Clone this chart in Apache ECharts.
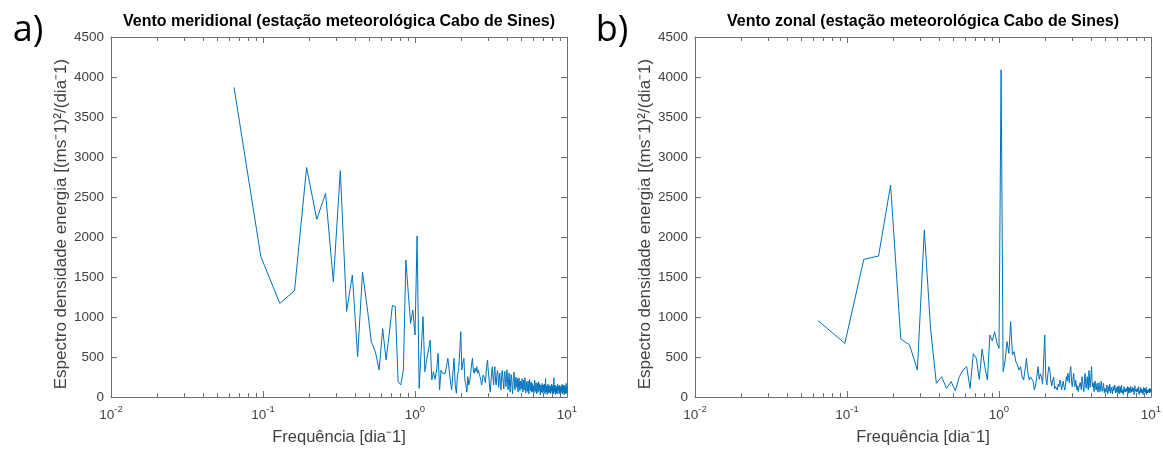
<!DOCTYPE html>
<html>
<head>
<meta charset="utf-8">
<script src="https://cdn.jsdelivr.net/npm/echarts/dist/echarts.min.js"></script>
<style>
  html, body { margin: 0; padding: 0; background: #ffffff; }
  #chart { width: 1163px; height: 449px; }
</style>
</head>
<body>
<div id="chart"></div>
<script>
// Periodogram of a 31-day hourly wind record; harmonics k = 2 .. 310 (f = k / 31 day^-1)
const RECORD_DAYS = 31;
const FIRST_HARMONIC = 2;

// Meridional wind spectral density, [(m s^-1)^2 / (day^-1)]
const meridionalPSD = [
  // k = 2..32
  3870, 1755, 1170, 1330, 2870, 2220, 2545, 1440, 2830, 1070, 1525, 505, 1560, 1130, 690, 567,
  338, 855, 463, 795, 1142, 1130, 192, 150, 340, 1712, 1300, 920, 1087, 775, 2012,
  // k = 33..62
  108, 560, 1004, 317, 462, 442, 712, 212, 317, 220, 337, 546, 87, 337, 296, 280, 296, 300,
  483, 462, 200, 87, 296, 483, 150, 46, 275, 330, 560, 817,
  // k = 63..93
  337, 420, 483, 212, 150, 60, 254, 150, 200, 296, 400, 483, 337, 296, 360, 317, 379, 296,
  340, 296, 254, 212, 150, 200, 275, 254, 230, 180, 300, 400, 462,
  // k = 94..124
  330, 250, 120, 60, 200, 300, 379, 250, 150, 330, 379, 200, 150, 260, 330, 280, 120, 220,
  300, 160, 90, 240, 330, 260, 180, 100, 280, 320, 200, 130, 260,
  // k = 125..155
  340, 180, 90, 220, 300, 150, 60, 200, 280, 230, 110, 40, 180, 260, 310, 150, 90, 200,
  250, 120, 170, 230, 110, 60, 190, 240, 130, 80, 200, 150, 100,
  // k = 156..186
  180, 230, 120, 60, 160, 210, 90, 140, 240, 130, 50, 110, 190, 150, 70, 130, 200, 100,
  40, 160, 220, 120, 80, 150, 190, 90, 60, 170, 130, 70, 140,
  // k = 187..217
  100, 50, 160, 210, 110, 70, 130, 180, 90, 40, 120, 170, 100, 60, 140, 190, 80, 120,
  160, 70, 30, 110, 150, 90, 60, 130, 170, 80, 50, 120, 150,
  // k = 218..248
  70, 100, 160, 90, 40, 110, 230, 120, 60, 90, 140, 70, 30, 120, 160, 80, 50, 110,
  150, 90, 60, 130, 100, 40, 90, 140, 70, 110, 160, 80, 50,
  // k = 249..279
  100, 140, 70, 40, 120, 240, 90, 60, 110, 150, 70, 30, 100, 140, 80, 50, 120, 90,
  40, 110, 160, 80, 60, 100, 130, 70, 40, 110, 150, 80, 50,
  // k = 280..310
  120, 90, 40, 100, 140, 70, 50, 110, 160, 80, 40, 90, 130, 60, 100, 150, 70, 30,
  100, 140, 80, 50, 120, 90, 40, 110, 170, 80, 50, 120, 90
];

// Zonal wind spectral density, [(m s^-1)^2 / (day^-1)]
const zonalPSD = [
  // k = 2..32
  954, 671, 1721, 1762, 2650, 725, 650, 337, 2087, 850, 171, 254, 108, 192, 79, 254,
  337, 379, 108, 540, 483, 220, 600, 380, 212, 775, 700, 817, 680, 608, 4090,
  // k = 33..62
  317, 450, 692, 546, 942, 525, 567, 442, 400, 337, 380, 254, 212, 337, 483, 300, 212, 250,
  230, 196, 87, 150, 260, 379, 220, 290, 250, 160, 450, 775,
  // k = 63..93
  230, 150, 290, 379, 330, 200, 140, 212, 250, 100, 130, 150, 87, 160, 129, 212, 170, 87,
  150, 200, 129, 87, 150, 254, 200, 296, 240, 180, 330, 379, 200,
  // k = 94..124
  129, 210, 296, 170, 130, 210, 150, 87, 140, 67, 110, 150, 180, 129, 90, 254, 190, 129,
  67, 160, 296, 200, 110, 171, 254, 140, 87, 330, 250, 120, 171,
  // k = 125..155
  296, 379, 200, 129, 180, 110, 67, 150, 200, 129, 87, 110, 171, 90, 60, 129, 180, 110,
  67, 100, 150, 200, 110, 70, 90, 130, 171, 90, 50, 110, 130,
  // k = 156..186
  90, 60, 120, 150, 80, 40, 100, 130, 70, 110, 160, 90, 50, 80, 120, 140, 70, 40,
  100, 130, 80, 60, 110, 150, 90, 50, 70, 120, 100, 60, 90,
  // k = 187..217
  130, 80, 50, 100, 140, 70, 40, 90, 120, 60, 100, 150, 80, 50, 90, 110, 60, 30,
  90, 130, 70, 100, 120, 60, 40, 80, 110, 70, 50, 100, 130,
  // k = 218..248
  70, 40, 90, 120, 60, 80, 110, 50, 30, 90, 130, 70, 100, 60, 40, 80, 120, 70,
  50, 90, 110, 60, 30, 80, 100, 140, 70, 50, 90, 60, 100,
  // k = 249..279
  120, 60, 40, 80, 110, 70, 50, 90, 130, 60, 30, 80, 100, 70, 50, 90, 120, 60,
  40, 70, 100, 80, 50, 90, 110, 60, 30, 80, 120, 70, 50,
  // k = 280..310
  90, 110, 60, 40, 80, 100, 50, 70, 120, 60, 30, 80, 100, 70, 50, 90, 110, 60,
  40, 80, 60, 100, 50, 70, 110, 60, 40, 80, 100, 60, 90
];

// Axis ranges and tick positions
const X_MIN = 0.01, X_MAX = 10;
const Y_MIN = 0, Y_MAX = 4500, Y_STEP = 500;
const minorLogTicks = [
  0.02, 0.03, 0.04, 0.05, 0.06, 0.07, 0.08, 0.09,
  0.2, 0.3, 0.4, 0.5, 0.6, 0.7, 0.8, 0.9,
  2, 3, 4, 5, 6, 7, 8, 9
];

const panelTitles = [
  'Vento meridional (estação meteorológica Cabo de Sines)',
  'Vento zonal (estação meteorológica Cabo de Sines)'
];
const panelTags = ['a)', 'b)'];
const xAxisName = 'Frequência [dia\u207B1]';
const yAxisName = 'Espectro densidade energia [(ms\u207B1)\u00B2/(dia\u207B1)';

const LINE_COLOR = '#0072BD';
const AXIS_COLOR = '#6e6e6e';
const LABEL_COLOR = '#404040';
const FONT = '"Liberation Sans", Arial, sans-serif';

const toPairs = values => values.map((v, i) => [(i + FIRST_HARMONIC) / RECORD_DAYS, v]);
const minorPairs = minorLogTicks.map(f => [f, Y_MIN]);

const grids = [
  { left: 111, right: 596, top: 37, bottom: 52, outerBoundsMode: 'none' },
  { left: 695, right: 12, top: 37, bottom: 52, outerBoundsMode: 'none' }
];

const xAxes = [];
const yAxes = [];
grids.forEach((g, gi) => {
  xAxes.push({
    type: 'log', logBase: 10, min: X_MIN, max: X_MAX, gridIndex: gi, position: 'bottom',
    axisLine: { show: true, onZero: false, lineStyle: { color: AXIS_COLOR, width: 1 } },
    axisTick: { show: true, inside: true, length: 6, lineStyle: { color: AXIS_COLOR } },
    splitLine: { show: false },
    axisLabel: {
      margin: 7, color: LABEL_COLOR, fontFamily: FONT,
      formatter: v => '{b|10}{s|' + Math.round(Math.log10(v)) + '}',
      rich: {
        b: { fontSize: 13.5, fontFamily: FONT, color: LABEL_COLOR, verticalAlign: 'bottom', lineHeight: 18 },
        s: { fontSize: 9.5, fontFamily: FONT, color: LABEL_COLOR, verticalAlign: 'top', lineHeight: 18 }
      }
    },
    name: xAxisName, nameLocation: 'middle', nameGap: 32,
    nameTextStyle: { fontSize: 16.5, fontFamily: FONT, color: LABEL_COLOR }
  });
  xAxes.push({
    type: 'log', logBase: 10, min: X_MIN, max: X_MAX, gridIndex: gi, position: 'top',
    axisLine: { show: true, onZero: false, lineStyle: { color: AXIS_COLOR, width: 1 } },
    axisTick: { show: true, inside: true, length: 6, lineStyle: { color: AXIS_COLOR } },
    axisLabel: { show: false }, splitLine: { show: false }
  });
  yAxes.push({
    type: 'value', min: Y_MIN, max: Y_MAX, interval: Y_STEP, gridIndex: gi, position: 'left',
    axisLine: { show: true, onZero: false, lineStyle: { color: AXIS_COLOR, width: 1 } },
    axisTick: { show: true, inside: true, length: 6, lineStyle: { color: AXIS_COLOR } },
    splitLine: { show: false },
    axisLabel: { margin: 7, fontSize: 13.5, fontFamily: FONT, color: LABEL_COLOR, formatter: v => String(v) },
    name: yAxisName, nameLocation: 'middle', nameGap: 37,
    nameTextStyle: { fontSize: 17, fontFamily: FONT, color: LABEL_COLOR, padding: [0, 14, 0, 0] }
  });
  yAxes.push({
    type: 'value', min: Y_MIN, max: Y_MAX, interval: Y_STEP, gridIndex: gi, position: 'right',
    axisLine: { show: true, onZero: false, lineStyle: { color: AXIS_COLOR, width: 1 } },
    axisTick: { show: true, inside: true, length: 6, lineStyle: { color: AXIS_COLOR } },
    axisLabel: { show: false }, splitLine: { show: false }
  });
});

// Short inward ticks at 2..9 x each decade, on the bottom and top edges
function minorTickRenderer(params, api) {
  const f = api.value(0);
  const pBottom = api.coord([f, Y_MIN]);
  const pTop = api.coord([f, Y_MAX]);
  const x = Math.round(pBottom[0]) + 0.5;
  const yb = pBottom[1];
  const yt = pTop[1];
  const st = { stroke: AXIS_COLOR, lineWidth: 1 };
  return {
    type: 'group',
    children: [
      { type: 'line', shape: { x1: x, y1: yb, x2: x, y2: yb - 4 }, style: st },
      { type: 'line', shape: { x1: x, y1: yt, x2: x, y2: yt + 4 }, style: st }
    ]
  };
}

const spectra = [meridionalPSD, zonalPSD];
const series = [];
spectra.forEach((vals, gi) => {
  series.push({
    type: 'line', xAxisIndex: gi * 2, yAxisIndex: gi * 2, data: toPairs(vals),
    showSymbol: false, symbol: 'none', sampling: 'none', animation: false,
    lineStyle: { color: LINE_COLOR, width: 1 }, clip: true, z: 2
  });
  series.push({
    type: 'custom', xAxisIndex: gi * 2, yAxisIndex: gi * 2, data: minorPairs,
    renderItem: minorTickRenderer, silent: true, animation: false, clip: false, z: 5,
    encode: { x: 0, y: 1 }
  });
});

const panelCenters = grids.map(g => (g.left + (1163 - g.right)) / 2);
const graphics = [];
panelTitles.forEach((t, i) => {
  graphics.push({
    type: 'text', x: panelCenters[i], y: 22,
    style: { text: t, fill: '#000000', font: 'bold 16px ' + FONT, align: 'center', verticalAlign: 'middle' }
  });
});
[[28, 31], [612, 31]].forEach((p, i) => {
  graphics.push({
    type: 'text', x: p[0], y: p[1],
    style: { text: panelTags[i], fill: '#000000', font: '36px "Open Sans", sans-serif', align: 'center', verticalAlign: 'middle' }
  });
});

const chart = echarts.init(document.getElementById('chart'), null, { renderer: 'canvas' });
chart.setOption({
  backgroundColor: '#ffffff',
  animation: false,
  grid: grids,
  xAxis: xAxes,
  yAxis: yAxes,
  series: series,
  graphic: graphics
});
</script>
</body>
</html>
